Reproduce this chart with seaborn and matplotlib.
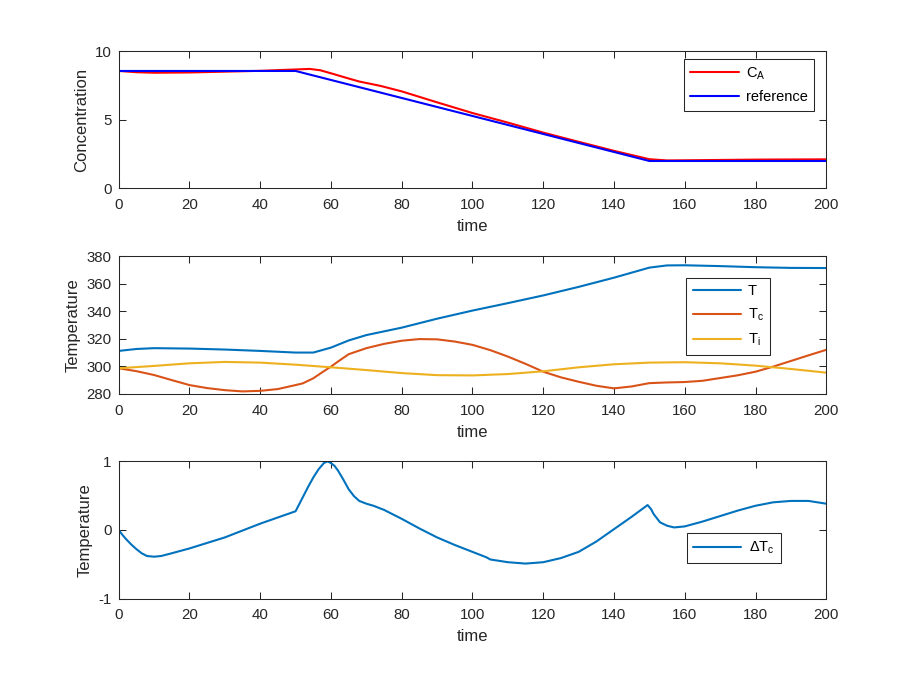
import matplotlib
matplotlib.use("Agg")
import matplotlib.pyplot as plt
import seaborn as sns
import pandas as pd

# ---------------- data ----------------
t_ref = [0, 50, 150, 200]
ref = [8.57, 8.57, 2.0, 2.0]

t_ca = [0, 5, 10, 20, 30, 40, 50, 54, 57, 60, 65, 68, 74, 80, 90, 100, 110, 120,
        130, 140, 148, 150, 155, 160, 180, 200]
ca = [8.57, 8.48, 8.44, 8.46, 8.52, 8.58, 8.68, 8.72, 8.62, 8.40, 8.02, 7.80, 7.48,
      7.08, 6.28, 5.50, 4.80, 4.07, 3.40, 2.74, 2.25, 2.13, 2.04, 2.05, 2.10, 2.12]

t_T = [0, 5, 10, 20, 30, 40, 50, 55, 60, 65, 70, 80, 90, 100, 110, 120, 130, 140,
       150, 155, 160, 170, 180, 190, 200]
T = [311.2, 312.6, 313.2, 312.9, 312.2, 311.2, 310.0, 310.0, 313.6, 318.8, 322.7,
     328.1, 334.6, 340.5, 345.9, 351.5, 357.7, 364.4, 371.7, 373.3, 373.4, 372.8,
     372.0, 371.5, 371.4]

t_Tc = [0, 5, 10, 15, 20, 25, 30, 35, 40, 45, 50, 52, 55, 58, 60, 62, 65, 70, 75,
        80, 85, 90, 95, 100, 105, 110, 115, 120, 125, 130, 135, 140, 145, 150, 155,
        160, 165, 170, 175, 180, 185, 190, 195, 200]
Tc = [298.6, 296.5, 293.7, 290.0, 286.4, 284.2, 282.7, 281.8, 282.2, 283.5, 286.4,
      287.6, 291.3, 296.5, 299.8, 303.5, 308.8, 313.2, 316.3, 318.6, 319.8, 319.6,
      318.0, 315.6, 311.8, 307.1, 301.8, 296.1, 292.0, 288.8, 285.9, 284.0, 285.4,
      287.8, 288.3, 288.6, 289.5, 291.5, 293.5, 296.1, 299.8, 303.9, 308.0, 312.0]

t_Ti = [0, 10, 20, 30, 40, 50, 60, 70, 80, 90, 100, 110, 120, 130, 140, 150, 160,
        170, 180, 190, 200]
Ti = [298.6, 300.3, 302.2, 303.2, 302.7, 301.2, 299.3, 297.3, 295.1, 293.6, 293.4,
      294.4, 296.4, 299.3, 301.5, 302.7, 303.0, 302.2, 300.5, 298.1, 295.4]

t_dTc = [0, 1, 2, 3.5, 5, 6.5, 8, 10, 12, 15, 20, 25, 30, 35, 40, 45, 50, 51, 52,
         53.5, 55, 56.5, 58, 59, 60, 61, 62, 63.5, 65, 66.5, 68, 70, 72, 75, 80, 85,
         90, 95, 100, 104, 105, 110, 115, 120, 125, 130, 135, 140, 145, 149.5, 150.5,
         151.2, 153, 155, 157, 160, 165, 170, 175, 180, 185, 190, 195, 200]
dTc = [0.0, -0.07, -0.13, -0.21, -0.28, -0.34, -0.38, -0.39, -0.38, -0.34, -0.27,
       -0.19, -0.11, -0.01, 0.09, 0.18, 0.27, 0.37, 0.47, 0.62, 0.76, 0.88, 0.97,
       0.995, 0.97, 0.93, 0.86, 0.73, 0.59, 0.49, 0.42, 0.38, 0.35, 0.29, 0.16, 0.02,
       -0.11, -0.22, -0.32, -0.40, -0.43, -0.47, -0.49, -0.47, -0.41, -0.32, -0.17,
       0.01, 0.19, 0.36, 0.30, 0.23, 0.11, 0.06, 0.035, 0.05, 0.12, 0.20, 0.28, 0.35,
       0.40, 0.42, 0.42, 0.38]

xticks = list(range(0, 201, 20))

# ---------------- style ----------------
sns.set_style("white")
plt.rcParams['font.family'] = ['Liberation Sans', 'DejaVu Sans']
plt.rcParams['mathtext.fontset'] = 'custom'
plt.rcParams['mathtext.rm'] = 'Liberation Sans'
plt.rcParams['mathtext.it'] = 'Liberation Sans:italic'
plt.rcParams['axes.unicode_minus'] = False

AX = '#262626'
BLUE = '#0072BD'
ORANGE = '#D95319'
YELLOW = '#EDB120'

fig = plt.figure(figsize=(9.13, 6.85), dpi=100)
ax1 = fig.add_axes([0.130, 0.725, 0.775, 0.200])
ax2 = fig.add_axes([0.130, 0.425, 0.775, 0.201])
ax3 = fig.add_axes([0.130, 0.126, 0.775, 0.201])

lw = 1.5
sns.lineplot(data=pd.DataFrame({'t': t_ca, 'v': ca}), x='t', y='v', ax=ax1,
             color='#FF0000', lw=lw, label=r'C$_\mathrm{A}$', sort=False)
sns.lineplot(data=pd.DataFrame({'t': t_ref, 'v': ref}), x='t', y='v', ax=ax1,
             color='#0000FF', lw=lw, label='reference', sort=False)

sns.lineplot(data=pd.DataFrame({'t': t_T, 'v': T}), x='t', y='v', ax=ax2,
             color=BLUE, lw=lw, label='T', sort=False)
sns.lineplot(data=pd.DataFrame({'t': t_Tc, 'v': Tc}), x='t', y='v', ax=ax2,
             color=ORANGE, lw=lw, label=r'T$_\mathrm{c}$', sort=False)
sns.lineplot(data=pd.DataFrame({'t': t_Ti, 'v': Ti}), x='t', y='v', ax=ax2,
             color=YELLOW, lw=lw, label=r'T$_\mathrm{i}$', sort=False)

sns.lineplot(data=pd.DataFrame({'t': t_dTc, 'v': dTc}), x='t', y='v', ax=ax3,
             color=BLUE, lw=lw, label=r'ΔT$_\mathrm{c}$', sort=False)

ax1.set_ylim(0, 10)
ax1.set_yticks([0, 5, 10])
ax1.set_ylabel('Concentration')
ax2.set_ylim(280, 380)
ax2.set_yticks([280, 300, 320, 340, 360, 380])
ax2.set_ylabel('Temperature')
ax3.set_ylim(-1, 1)
ax3.set_yticks([-1, 0, 1])
ax3.set_ylabel('Temperature')

legend_pos = {ax1: (0.983, 0.947), ax2: (0.921, 0.845), ax3: (0.936, 0.475)}
for ax in (ax1, ax2, ax3):
    ax.set_xlim(0, 200)
    ax.set_xticks(xticks)
    ax.set_xlabel('time', fontsize=12, color=AX, labelpad=5)
    ax.yaxis.label.set_size(12)
    ax.yaxis.label.set_color(AX)
    ax.tick_params(direction='in', length=5, width=0.75, colors=AX,
                   labelsize=10.8, top=True, right=True, bottom=True, left=True,
                   labelcolor=AX)
    ax.tick_params(axis='x', pad=7)
    ax.tick_params(axis='y', pad=5)
    for s in ax.spines.values():
        s.set_visible(True)
        s.set_color(AX)
        s.set_linewidth(0.75)
    leg = ax.legend(loc='upper right', bbox_to_anchor=legend_pos[ax],
                    fontsize=10.5, frameon=True, fancybox=False, framealpha=1,
                    edgecolor=AX, handlelength=3.3, borderpad=0.45,
                    labelspacing=0.6, handletextpad=0.5, borderaxespad=0)
    leg.get_frame().set_linewidth(0.75)
    for txt in leg.get_texts():
        txt.set_color('black')

fig.savefig('out.png', dpi=100, facecolor='white')
